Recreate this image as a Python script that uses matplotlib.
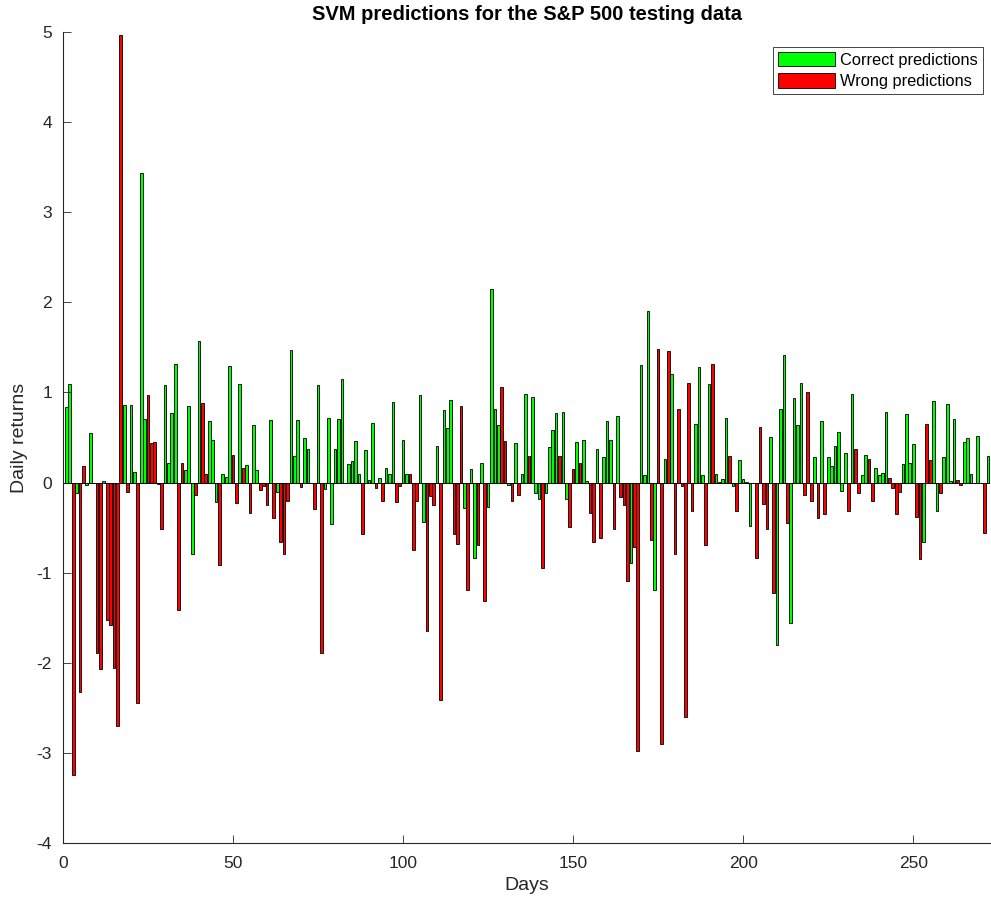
import numpy as np
import matplotlib.pyplot as plt
from matplotlib.patches import Patch

plt.rcParams['font.family'] = ['Liberation Sans', 'DejaVu Sans']
plt.rcParams['axes.unicode_minus'] = False

# daily returns of the testing days (day 1 .. 272)
returns = [0.84, 1.09, -3.24, -0.12, -2.32, 0.18, -0.03, 0.55, 0.0, -1.89,
           -2.07, 0.02, -1.53, -1.58, -2.06, -2.70, 4.97, 0.86, -0.11, 0.86,
           0.12, -2.45, 3.43, 0.70, 0.97, 0.44, 0.45, -0.02, -0.51, 1.08,
           0.22, 0.77, 1.32, -1.41, 0.22, 0.14, 0.85, -0.79, -0.14, 1.57,
           0.88, 0.10, 0.68, 0.47, -0.22, -0.92, 0.09, 0.06, 1.29, 0.31,
           -0.23, 1.09, 0.16, 0.19, -0.34, 0.64, 0.14, -0.08, -0.04, -0.25,
           0.69, -0.39, -0.11, -0.66, -0.79, -0.20, 1.47, 0.30, 0.69, -0.05,
           0.49, 0.37, -0.01, -0.29, 1.08, -1.89, -0.07, 0.72, -0.46, 0.37,
           0.70, 1.15, 0.0, 0.21, 0.24, 0.46, 0.10, -0.57, 0.36, 0.03,
           0.66, -0.06, 0.05, -0.21, 0.16, 0.09, 0.89, -0.22, -0.04, 0.47,
           0.10, 0.09, -0.75, -0.21, 0.97, -0.44, -1.65, -0.15, -0.25, 0.41,
           -2.41, 0.81, 0.61, 0.92, -0.57, -0.68, 0.85, -0.28, -1.19, 0.15,
           -0.84, -0.69, 0.22, -1.31, -0.27, 2.15, 0.82, 0.64, 1.06, 0.46,
           -0.03, -0.20, 0.44, -0.14, 0.09, 0.98, 0.30, 0.95, -0.12, -0.18,
           -0.95, -0.12, 0.39, 0.58, 0.77, 0.30, 0.78, -0.18, -0.49, 0.15,
           0.45, 0.22, 0.47, 0.02, -0.34, -0.66, 0.37, -0.62, 0.28, 0.68,
           0.47, -0.52, 0.74, -0.16, -0.25, -1.09, -0.89, -0.72, -2.98, 1.31,
           0.08, 1.90, -0.64, -1.19, 1.48, -2.90, 0.26, 1.46, 1.21, -0.79,
           0.82, -0.04, -2.60, 1.10, -0.32, 0.65, 1.28, 0.08, -0.69, 1.09,
           1.32, 0.09, 0.01, 0.04, 0.72, 0.30, -0.04, -0.32, 0.25, 0.04,
           0.01, -0.48, -0.01, -0.84, 0.62, -0.24, -0.52, 0.51, -1.23, -1.80,
           0.82, 1.42, -0.45, -1.56, 0.94, 0.64, 1.10, -0.14, 1.00, -0.20,
           0.28, -0.39, 0.68, -0.35, 0.28, 0.18, 0.41, 0.56, -0.09, 0.33,
           -0.31, 0.98, 0.37, -0.12, 0.08, 0.31, 0.26, -0.20, 0.16, 0.08,
           0.11, 0.78, 0.05, -0.06, -0.35, -0.10, 0.21, 0.76, 0.22, 0.43,
           -0.38, -0.85, -0.66, 0.65, 0.25, 0.91, -0.31, -0.12, 0.28, 0.87,
           0.02, 0.71, 0.03, -0.03, 0.45, 0.49, 0.09, -0.01, 0.52, 0.0,
           -0.56, 0.29]

# 1 = correct prediction, 0 = wrong prediction
correct = [1, 1, 0, 1, 0, 0, 1, 1, 1, 0,
           0, 1, 0, 0, 0, 0, 0, 1, 0, 1,
           1, 0, 1, 1, 0, 0, 0, 1, 0, 1,
           1, 1, 1, 0, 0, 1, 1, 1, 0, 1,
           0, 0, 1, 1, 1, 0, 1, 1, 1, 0,
           0, 1, 0, 1, 0, 1, 1, 0, 0, 0,
           1, 0, 1, 0, 0, 0, 1, 1, 1, 0,
           1, 1, 0, 0, 1, 0, 1, 1, 1, 1,
           1, 1, 1, 1, 1, 1, 1, 0, 1, 1,
           1, 0, 1, 0, 1, 1, 1, 0, 0, 1,
           1, 0, 0, 0, 1, 1, 0, 0, 0, 1,
           0, 1, 1, 1, 0, 0, 0, 1, 0, 1,
           1, 0, 1, 0, 1, 1, 1, 1, 0, 0,
           1, 0, 1, 0, 1, 1, 0, 1, 1, 1,
           0, 1, 1, 1, 1, 0, 1, 1, 0, 0,
           1, 0, 1, 1, 0, 0, 1, 0, 1, 1,
           1, 0, 1, 0, 0, 0, 1, 0, 0, 1,
           1, 1, 0, 1, 0, 0, 1, 0, 1, 0,
           0, 0, 0, 0, 0, 1, 1, 1, 0, 1,
           0, 1, 1, 1, 1, 0, 1, 0, 1, 1,
           1, 1, 1, 0, 0, 0, 0, 1, 0, 1,
           1, 1, 0, 1, 1, 1, 1, 0, 0, 0,
           1, 0, 1, 0, 1, 1, 1, 1, 1, 1,
           0, 1, 0, 0, 1, 1, 0, 0, 1, 1,
           1, 1, 0, 0, 0, 0, 1, 1, 1, 1,
           0, 0, 1, 0, 0, 1, 1, 0, 1, 1,
           1, 1, 0, 0, 1, 1, 1, 1, 1, 1,
           0, 1]

days = np.arange(1, len(returns) + 1)
colors = ['#00ff00' if c == 1 else '#ff0000' for c in correct]

axcol = '#262626'

fig = plt.figure(figsize=(9.91, 9.02), dpi=100)
ax = fig.add_axes([0.0636, 0.0654, 0.9354, 0.8991])

ax.bar(days, returns, width=0.8, color=colors, edgecolor='black', linewidth=0.6)
ax.axhline(0, color='black', linewidth=0.6)

ax.set_xlim(0, 272.6)
ax.set_ylim(-4, 5)
ax.set_xticks([0, 50, 100, 150, 200, 250])
ax.set_yticks(range(-4, 6))

ax.spines['top'].set_visible(False)
ax.spines['right'].set_visible(False)
ax.spines['left'].set_color(axcol)
ax.spines['bottom'].set_color(axcol)
ax.tick_params(direction='in', length=6, width=0.6, colors=axcol, labelsize=12.5)
ax.tick_params(axis='x', pad=9)
ax.tick_params(axis='y', pad=8)

ax.set_title('SVM predictions for the S&P 500 testing data', fontsize=14.5,
             fontweight='bold', pad=9)
ax.set_xlabel('Days', fontsize=14, color=axcol, labelpad=5)
ax.set_ylabel('Daily returns', fontsize=14, color=axcol, labelpad=6)

handles = [Patch(facecolor='#00ff00', edgecolor='black', linewidth=0.6),
           Patch(facecolor='#ff0000', edgecolor='black', linewidth=0.6)]
leg = ax.legend(handles, ['Correct predictions', 'Wrong predictions'],
                loc='upper right', bbox_to_anchor=(0.9925, 0.9815),
                borderaxespad=0, fancybox=False, framealpha=1,
                edgecolor=axcol, fontsize=11.8, handlelength=3.5,
                handleheight=0.95, labelspacing=0.35, handletextpad=0.3,
                borderpad=0.3)
leg.get_frame().set_linewidth(0.6)

fig.savefig('out.png', dpi=100)
